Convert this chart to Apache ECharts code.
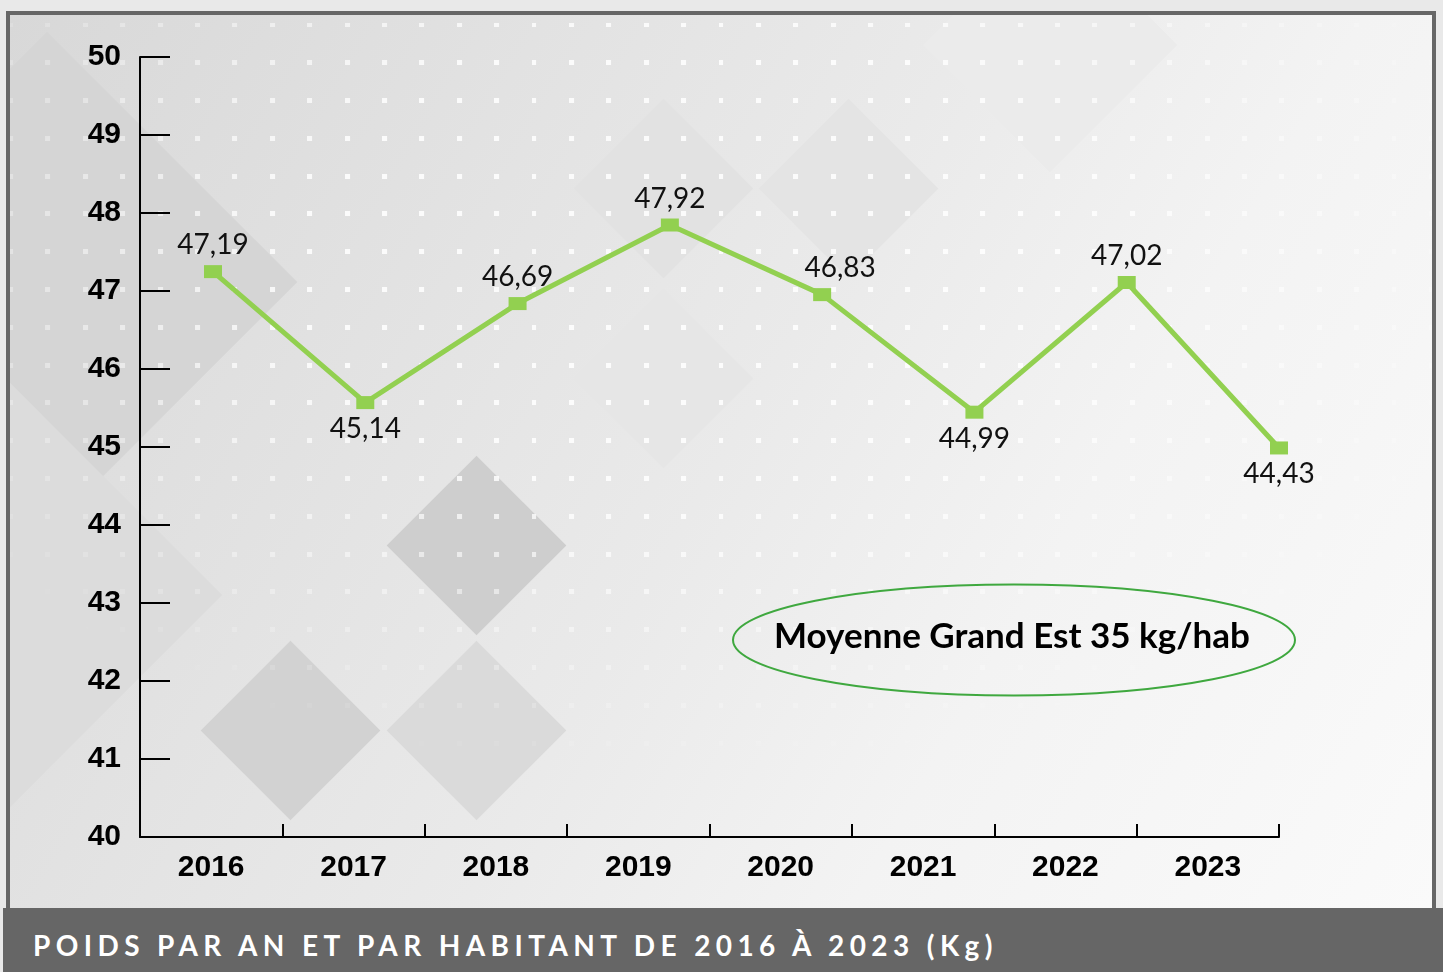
<!DOCTYPE html>
<html>
<head>
<meta charset="utf-8">
<script src="https://cdn.jsdelivr.net/npm/echarts@6/dist/echarts.min.js"></script>
<style>
  html, body { margin:0; padding:0; width:1443px; height:972px; overflow:hidden; background:#e9e9e9; }
  #panel { position:absolute; left:6px; top:11px; width:1430px; height:897px; box-sizing:border-box;
    border:4px solid #666; border-bottom:none; overflow:hidden;
    background:linear-gradient(120deg, #d8d8d8 0%, #e1e1e1 25%, #eaeaea 50%, #f3f3f3 70%, #fafafa 100%); }
  .dia { position:absolute; transform:rotate(45deg); }
  #dots { position:absolute; left:0; top:0; width:100%; height:100%;
    background-image: url("data:image/svg+xml,%3Csvg xmlns='http://www.w3.org/2000/svg' width='37.4' height='37.8'%3E%3Crect x='0' y='0' width='5' height='5' fill='white' fill-opacity='0.85'/%3E%3C/svg%3E");
    background-size:37.4px 37.8px; background-position:35.5px 7.5px;
    -webkit-mask-image: radial-gradient(ellipse 62% 58% at 48% 28%, #000 45%, rgba(0,0,0,0) 100%);
    mask-image: radial-gradient(ellipse 62% 58% at 48% 28%, #000 45%, rgba(0,0,0,0) 100%); }
  #band { position:absolute; left:3px; top:908px; width:1440px; height:64px; background:#666; }
  #foot { position:absolute; left:33px; top:926px; color:#fff; font-family:Lato, sans-serif; font-weight:bold;
    font-size:28px; letter-spacing:5.4px; white-space:nowrap; line-height:38px; }
  #chart { position:absolute; left:0; top:0; width:1443px; height:972px; }
</style>
</head>
<body>
<div id="panel">
  <div class="dia" style="left:-140px;top:90px;width:354px;height:354px;background:#d5d5d5;"></div>
  <div class="dia" style="left:-150px;top:430px;width:300px;height:300px;background:#dcdcdc;"></div>
  <div class="dia" style="left:402.5px;top:466.5px;width:127px;height:127px;background:#cecece;"></div>
  <div class="dia" style="left:216.5px;top:651.5px;width:127px;height:127px;background:#d2d2d2;"></div>
  <div class="dia" style="left:402.5px;top:651.5px;width:127px;height:127px;background:#dadada;"></div>
  <div class="dia" style="left:590px;top:110px;width:127px;height:127px;background:#e2e2e2;"></div>
  <div class="dia" style="left:775px;top:110px;width:127px;height:127px;background:#e4e4e4;"></div>
  <div class="dia" style="left:590px;top:300px;width:127px;height:127px;background:#e6e6e6;"></div>
  <div class="dia" style="left:950px;top:-60px;width:180px;height:180px;background:#ebebeb;"></div>
  <div id="dots"></div>
</div>
<div id="band"></div>
<div id="foot">POIDS PAR AN ET PAR HABITANT DE 2016 À 2023 (Kg)</div>
<div id="chart"></div>
<script>
// ---- data ----
var years = ['2016', '2017', '2018', '2019', '2020', '2021', '2022', '2023'];
var poids = [47.19, 45.14, 46.69, 47.92, 46.83, 44.99, 47.02, 44.43];
var yTicks = [40, 41, 42, 43, 44, 45, 46, 47, 48, 49, 50];
var annotation = 'Moyenne Grand Est 35 kg/hab';

var below = { 1: true, 5: true, 7: true };
var seriesData = poids.map(function (v, i) {
  var d = { value: v, label: { position: below[i] ? 'bottom' : 'top' } };
  if (i === 4) d.label.offset = [18, 0];
  return d;
});

var chart = echarts.init(document.getElementById('chart'), null, { renderer: 'canvas' });
var axisFont = { fontFamily: 'Liberation Sans, Arial, sans-serif', fontWeight: 'bold', fontSize: 30, color: '#000' };

chart.setOption({
  backgroundColor: 'transparent',
  animation: false,
  grid: [
    { left: 140, right: 164, top: 57, bottom: 135 },
    { left: 213, right: 164, top: 57, bottom: 135 }
  ],
  xAxis: [
    { type: 'category', gridIndex: 0, data: years, boundaryGap: true,
      axisLine: { show: true, lineStyle: { color: '#000', width: 2 } },
      axisTick: { show: true, inside: true, length: 13, lineStyle: { color: '#000', width: 2 } },
      axisLabel: Object.assign({ margin: 16 }, axisFont),
      splitLine: { show: false } },
    { type: 'category', gridIndex: 1, data: years, boundaryGap: false, show: false }
  ],
  yAxis: [
    { type: 'value', gridIndex: 0, min: yTicks[0], max: yTicks[yTicks.length - 1], interval: 1,
      axisLine: { show: true, lineStyle: { color: '#000', width: 2 } },
      axisTick: { show: true, inside: true, length: 30, lineStyle: { color: '#000', width: 2 } },
      axisLabel: Object.assign({ margin: 19 }, axisFont),
      splitLine: { show: false } },
    { type: 'value', gridIndex: 1, min: 38.34, max: 50.55, show: false }
  ],
  series: [{
    type: 'line', xAxisIndex: 1, yAxisIndex: 1,
    data: seriesData,
    symbol: 'rect', symbolSize: [18, 13],
    lineStyle: { color: '#92d050', width: 5 },
    itemStyle: { color: '#92d050' },
    label: { show: true, distance: 6, fontFamily: 'Lato, sans-serif', fontSize: 28, color: '#111',
      formatter: function (p) { return p.value.toFixed(2).replace('.', ','); } }
  }],
  graphic: [
    { type: 'ellipse', shape: { cx: 1014, cy: 640, rx: 281, ry: 55.5 },
      style: { fill: 'none', stroke: '#3fa83f', lineWidth: 2 } },
    { type: 'text', x: 1012, y: 637,
      style: { text: annotation, fontFamily: 'Lato, sans-serif', fontWeight: 'bold', fontSize: 35,
        fill: '#000', align: 'center', verticalAlign: 'middle' } }
  ]
});
</script>
</body>
</html>
